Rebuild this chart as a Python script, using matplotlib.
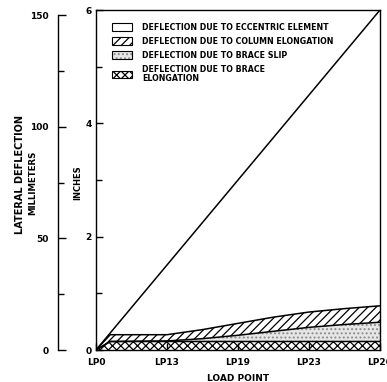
"""Lateral deflection components vs load point (stacked bands, inches / mm)."""

import numpy as np
import matplotlib.pyplot as plt
from matplotlib.patches import Patch
from matplotlib.legend_handler import HandlerTuple

# load point tick labels, placed at index 0..4
load_points = ["LP0", "LP13", "LP19", "LP23", "LP26"]

# curve positions along the load-point axis (index units)
x_pos = [0, 0.2, 1, 1.5, 2, 2.5, 3, 3.5, 4]

# deflection components, inches
brace_elongation = [0, 0.15, 0.15, 0.15, 0.15, 0.15, 0.15, 0.15, 0.15]
brace_slip = [0, 0, 0.01, 0.05, 0.11, 0.18, 0.25, 0.30, 0.34]
column_elongation = [0, 0.12, 0.11, 0.16, 0.21, 0.25, 0.27, 0.28, 0.29]
eccentric_element = [0, 0.03, 1.23, 1.89, 2.53, 3.17, 3.83, 4.52, 5.22]

legend_labels = [
    "DEFLECTION DUE TO ECCENTRIC ELEMENT",
    "DEFLECTION DUE TO COLUMN ELONGATION",
    "DEFLECTION DUE TO BRACE SLIP",
    "DEFLECTION DUE TO BRACE\nELONGATION",
]

inch_ticks = [0, 2, 4, 6]
mm_ticks = [0, 50, 100, 150]
MM_PER_INCH = 25.4

plt.rcParams["hatch.linewidth"] = 0.9
plt.rcParams["font.family"] = "DejaVu Sans"

W, H = 387, 382
fig = plt.figure(figsize=(W / 100, H / 100), dpi=100)

left, right, top, bottom = 96, 380, 10, 350
ax = fig.add_axes([left / W, 1 - bottom / H, (right - left) / W, (bottom - top) / H])

x = np.array(x_pos, dtype=float)
layers = np.cumsum(
    np.vstack([brace_elongation, brace_slip, column_elongation, eccentric_element]), axis=0
)
base = np.zeros_like(x)

# bands (hatch colour comes from edgecolor, outlines drawn separately)
ax.fill_between(x, base, layers[0], facecolor="white", edgecolor="black",
                hatch="xxxx", linewidth=0)
ax.fill_between(x, layers[0], layers[1], facecolor="#e6e6e6", edgecolor="#8a8a8a",
                hatch="....", linewidth=0)
ax.fill_between(x, layers[1], layers[2], facecolor="white", edgecolor="black",
                hatch="////", linewidth=0)

for top_line in layers:
    ax.plot(x, top_line, color="black", linewidth=1.1)

ax.set_xlim(0, 4)
ax.set_ylim(0, 6)
ax.set_xticks(range(len(load_points)))
ax.set_xticklabels(load_points)
ax.set_yticks(inch_ticks)
ax.set_yticks([1, 3, 5], minor=True)
ax.tick_params(axis="y", direction="in", length=5, width=1, labelsize=6.5, pad=3)
ax.tick_params(axis="x", direction="in", length=5, width=1, labelsize=6.5, pad=6)
ax.tick_params(axis="y", which="minor", direction="in", length=4, width=1)
for lab in ax.get_xticklabels() + ax.get_yticklabels():
    lab.set_fontweight("bold")
for sp in ax.spines.values():
    sp.set_linewidth(1.0)

ax.set_xlabel("LOAD POINT", fontsize=6.5, fontweight="bold", labelpad=5)

# legend
handles = [
    Patch(facecolor="white", edgecolor="black", linewidth=0.8),
    Patch(facecolor="white", edgecolor="black", hatch="////", linewidth=0.8),
    (Patch(facecolor="#e6e6e6", edgecolor="#8a8a8a", hatch="....", linewidth=0),
     Patch(facecolor="none", edgecolor="black", linewidth=0.8)),
    Patch(facecolor="white", edgecolor="black", hatch="xxxx", linewidth=0.8),
]
leg = ax.legend(
    handles, legend_labels,
    handler_map={tuple: HandlerTuple(ndivide=1, pad=0)},
    loc="upper left",
    bbox_to_anchor=((112 - left) / (right - left), 1 - (23 - top) / (bottom - top)),
    frameon=False, borderpad=0, borderaxespad=0,
    fontsize=5.7, handlelength=2.5, handleheight=1.15,
    handletextpad=1.3, labelspacing=0.62,
)
for t in leg.get_texts():
    t.set_fontweight("bold")
    t.set_linespacing(1.0)

# secondary millimetre axis on the left
ax_mm = fig.add_axes([58 / W, 1 - bottom / H, 0.001, (bottom - top) / H])
ax_mm.set_ylim(0, 6 * MM_PER_INCH)
ax_mm.set_xticks([])
ax_mm.set_yticks(mm_ticks)
ax_mm.set_yticks([25, 75, 125], minor=True)
for name in ("top", "right", "bottom"):
    ax_mm.spines[name].set_visible(False)
ax_mm.spines["left"].set_bounds(0, 150)
ax_mm.spines["left"].set_linewidth(1.0)
ax_mm.patch.set_visible(False)
ax_mm.tick_params(axis="y", direction="in", length=6, width=1, labelsize=6.5, pad=7)
ax_mm.tick_params(axis="y", which="minor", direction="in", length=4, width=1)
for lab in ax_mm.get_yticklabels():
    lab.set_fontweight("bold")

fig.text(20 / W, 1 - 175 / H, "LATERAL DEFLECTION", rotation=90, ha="center",
         va="center", fontsize=7, fontweight="bold")
fig.text(33 / W, 1 - 183 / H, "MILLIMETERS", rotation=90, ha="center",
         va="center", fontsize=6.2, fontweight="bold")
fig.text(78 / W, 1 - 183 / H, "INCHES", rotation=90, ha="center",
         va="center", fontsize=6, fontweight="bold")

fig.savefig("out.png", dpi=100)
